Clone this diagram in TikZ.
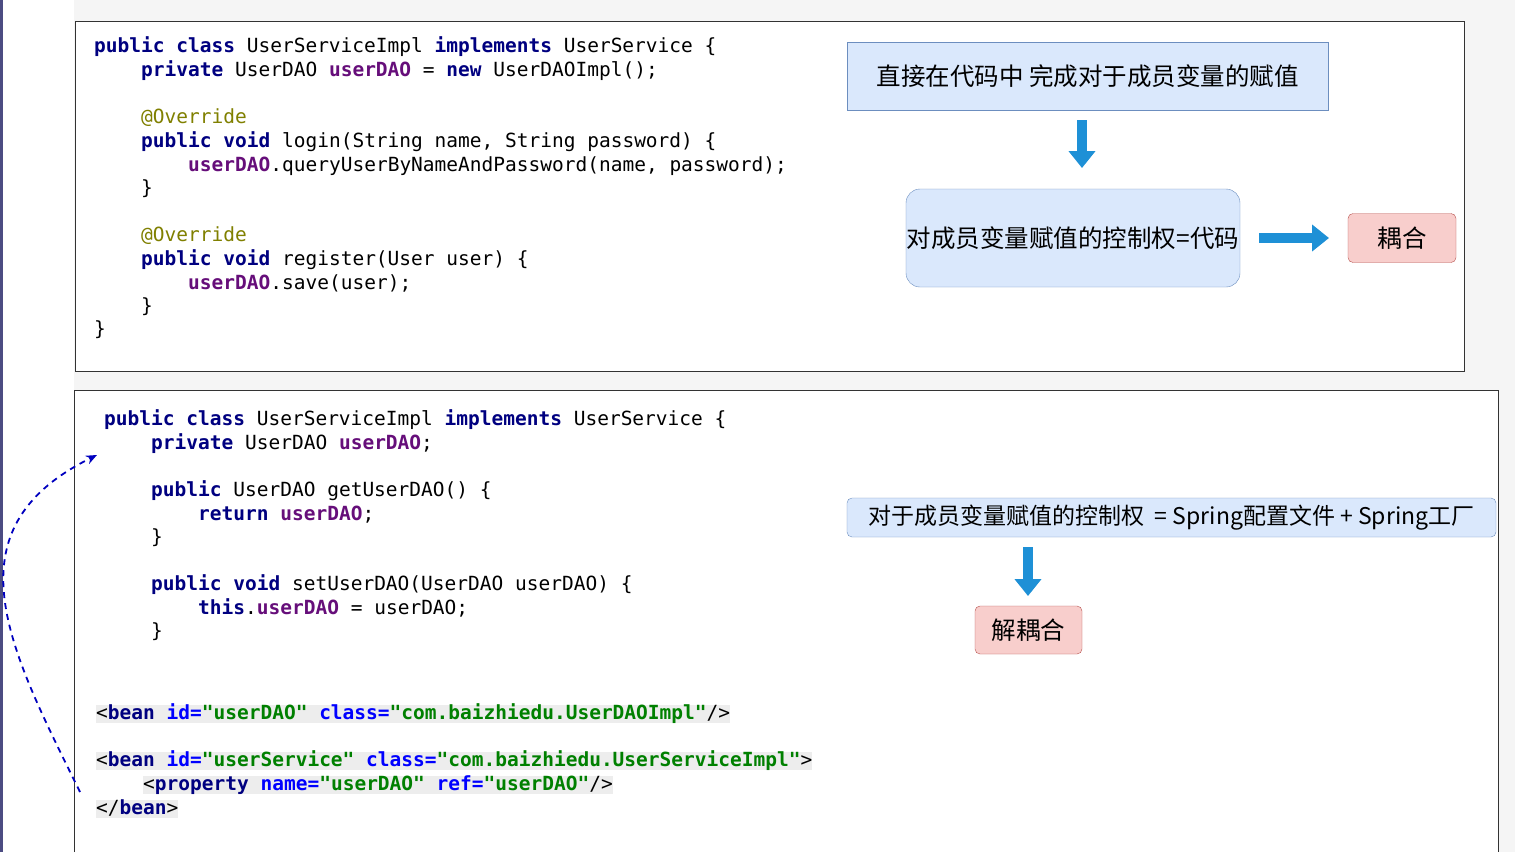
\documentclass[tikz,border=0pt]{standalone}
\usepackage{fontspec}
\setmonofont{DejaVu Sans Mono}
\newfontfamily\cjk{Noto Sans CJK SC}
\usetikzlibrary{arrows.meta}
\definecolor{kwc}{RGB}{0,0,128}
\definecolor{fldc}{RGB}{102,14,122}
\definecolor{anc}{RGB}{128,128,0}
\definecolor{strc}{RGB}{0,128,0}
\definecolor{attc}{RGB}{0,0,255}
\definecolor{bfill}{RGB}{218,232,252}
\definecolor{bdraw}{RGB}{108,142,191}
\definecolor{rfill}{RGB}{248,206,204}
\definecolor{rdraw}{RGB}{184,84,80}
\definecolor{arr}{RGB}{30,144,214}
\newcommand{\kw}[1]{\textcolor{kwc}{\bfseries #1}}
\newcommand{\fld}[1]{\textcolor{fldc}{\bfseries #1}}
\newcommand{\an}[1]{\textcolor{anc}{#1}}
\newcommand{\st}[1]{\textcolor{strc}{\bfseries #1}}
\newcommand{\at}[1]{\textcolor{attc}{\bfseries #1}}
\begin{document}
\begin{tikzpicture}[x=1pt,y=-1pt,
  code/.style={anchor=west,inner sep=0pt,font=\ttfamily\fontsize{19.5}{20}\selectfont,text height=14pt,text depth=4pt},
  xml/.style={code,fill=black!7},
  bbox/.style={draw=bdraw,fill=bfill,font=\cjk\fontsize{24.5}{27}\selectfont,inner sep=0pt},
  rbox/.style={draw=rdraw,fill=rfill,rounded corners=5pt,font=\cjk\fontsize{24.5}{27}\selectfont,inner sep=0pt},
  barr/.style={draw=arr,line width=10pt,-{Triangle[width=26pt,length=17pt]}}]
\useasboundingbox (0,0) rectangle (1515,852);
\fill[black!4] (0,0) rectangle (1515,852);
\fill[white] (75,21) rectangle (1464,371);
\draw[black!80] (75,21) rectangle (1464,371);
\fill[white] (74,390) rectangle (1498,852);
\draw[black!80] (74,852) -- (74,390) -- (1498,390) -- (1498,852);
\fill[white] (3,0) rectangle (74,852);
\fill[blue!30!black!70] (0,0) rectangle (3,852);
% top code
\node[code] (t1) at (94,47) {\kw{public class} UserServiceImpl \kw{implements} UserService \{};
\node[code] (t2) at (141,71) {\kw{private} UserDAO \fld{userDAO} = \kw{new} UserDAOImpl();};
\node[code] (t3) at (141,118) {\an{@Override}};
\node[code] (t4) at (141,142) {\kw{public void} login(String name, String password) \{};
\node[code] (t5) at (188,166) {\fld{userDAO}.queryUserByNameAndPassword(name, password);};
\node[code] (t6) at (141,189) {\}};
\node[code] (t7) at (141,236) {\an{@Override}};
\node[code] (t8) at (141,260) {\kw{public void} register(User user) \{};
\node[code] (t9) at (188,284) {\fld{userDAO}.save(user);};
\node[code] (t10) at (141,307) {\}};
\node[code] (t11) at (94,330) {\}};
% bottom code
\node[code] (b1) at (104,420) {\kw{public class} UserServiceImpl \kw{implements} UserService \{};
\node[code] (b2) at (151,444) {\kw{private} UserDAO \fld{userDAO};};
\node[code] (b3) at (151,491) {\kw{public} UserDAO getUserDAO() \{};
\node[code] (b4) at (198,515) {\kw{return} \fld{userDAO};};
\node[code] (b5) at (151,538) {\}};
\node[code] (b6) at (151,585) {\kw{public void} setUserDAO(UserDAO userDAO) \{};
\node[code] (b7) at (198,609) {\kw{this}.\fld{userDAO} = userDAO;};
\node[code] (b8) at (151,632) {\}};
% xml
\node[xml] (x1) at (96,714) {<\kw{bean} \at{id=}\st{"userDAO"} \at{class=}\st{"com.baizhiedu.UserDAOImpl"}/>};
\node[xml] (x2) at (96,761) {<\kw{bean} \at{id=}\st{"userService"} \at{class=}\st{"com.baizhiedu.UserServiceImpl"}>};
\node[xml] (x3) at (143,785) {<\kw{property} \at{name=}\st{"userDAO"} \at{ref=}\st{"userDAO"}/>};
\node[xml] (x4) at (96,809) {</\kw{bean}>};
\coordinate (ds) at (80,792);
\coordinate (de) at (97,455);
\draw[blue!75!black,line width=1.8pt,dash pattern=on 6pt off 5pt,-{Stealth[length=11pt,width=9pt]}] (ds) .. controls (10,650) and (-55,530) .. (de);
% diagram top
\node[bbox,minimum width=481pt,minimum height=68pt] (d1) at (1087.5,76) {直接在代码中 完成对于成员变量的赋值};
\node[bbox,rounded corners=14pt,minimum width=334pt,minimum height=98pt] (d2) at (1073,238) {对成员变量赋值的控制权=代码};
\node[rbox,minimum width=108pt,minimum height=49pt] (d3) at (1402,238) {耦合};
\coordinate (a1s) at (1082,120);
\coordinate (a1e) at (1082,168);
\draw[barr] (a1s) -- (a1e);
\coordinate (a2s) at (1259,238);
\coordinate (a2e) at (1329,238);
\draw[barr] (a2s) -- (a2e);
% diagram bottom
\node[bbox,rounded corners=5pt,minimum width=649pt,minimum height=39pt,font=\cjk\fontsize{23}{26}\selectfont] (e1) at (1171.5,517.5) {对于成员变量赋值的控制权 \ = Spring配置文件 + Spring工厂};
\node[rbox,minimum width=107pt,minimum height=48pt] (e2) at (1028.5,630) {解耦合};
\coordinate (a3s) at (1028,547);
\coordinate (a3e) at (1028,596);
\draw[barr] (a3s) -- (a3e);
\end{tikzpicture}
\end{document}
